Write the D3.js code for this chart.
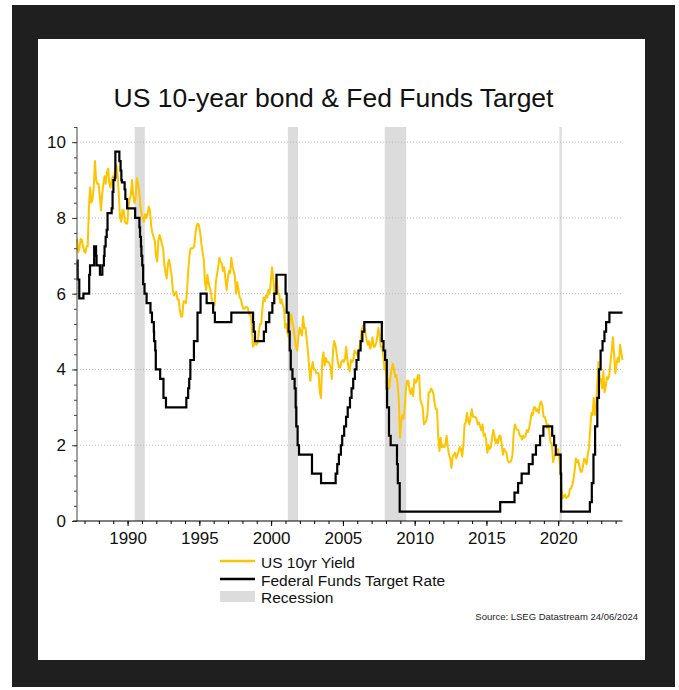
<!DOCTYPE html>
<html>
<head>
<meta charset="utf-8">
<script src="https://cdn.jsdelivr.net/npm/d3@7"></script>
<style>
body { margin: 0; background: #fff; }
text { font-family: "Liberation Sans", Arial, sans-serif; }
</style>
</head>
<body>
<svg id="canvas"></svg>
<script>
// US 10yr yield, monthly readings from Jun 1986 to Jun 2024
let yieldStart = [1986, 5, 24];
let yields = [
  7.45, 7.10, 7.17, 7.45, 7.43, 7.25, 7.11,                               // 1986 (Jun-Dec)
  7.08, 7.25, 7.25, 8.30, 8.80, 8.40, 8.50, 8.80, 9.50, 9.00, 8.90, 8.90, // 1987
  8.60, 8.20, 8.60, 8.90, 9.10, 8.90, 9.20, 9.30, 8.90, 8.80, 9.00, 9.10, // 1988
  9.10, 9.30, 9.40, 9.10, 8.60, 8.00, 7.90, 8.20, 8.20, 7.90, 7.85, 7.85, // 1989
  8.30, 8.50, 8.60, 9.00, 8.60, 8.40, 8.50, 9.05, 8.90, 8.70, 8.30, 8.10, // 1990
  8.00, 7.90, 8.10, 8.00, 8.10, 8.30, 8.20, 7.80, 7.60, 7.50, 7.40, 7.00, // 1991
  6.85, 7.40, 7.55, 7.45, 7.30, 7.20, 6.75, 6.55, 6.40, 6.80, 6.90, 6.70, // 1992
  6.50, 6.10, 5.95, 6.00, 6.05, 5.85, 5.85, 5.55, 5.40, 5.40, 5.80, 5.80, // 1993
  5.75, 6.10, 6.60, 7.00, 7.20, 7.20, 7.20, 7.25, 7.60, 7.80, 7.85, 7.80, // 1994
  7.60, 7.30, 7.10, 6.90, 6.30, 6.10, 6.50, 6.30, 6.15, 6.00, 5.80, 5.70, // 1995
  5.70, 6.30, 6.50, 6.70, 6.95, 6.85, 6.80, 6.60, 6.70, 6.40, 6.10, 6.40, // 1996
  6.60, 6.55, 6.95, 6.70, 6.60, 6.45, 6.00, 6.30, 6.10, 5.90, 5.85, 5.70, // 1997
  5.60, 5.60, 5.65, 5.65, 5.60, 5.45, 5.50, 5.20, 4.60, 4.65, 4.75, 4.65, // 1998
  4.70, 5.00, 5.20, 5.20, 5.60, 5.90, 5.80, 5.95, 5.90, 6.10, 6.00, 6.30, // 1999
  6.70, 6.40, 6.00, 6.20, 6.40, 6.00, 6.00, 5.75, 5.85, 5.70, 5.60, 5.10, // 2000
  5.20, 4.95, 4.85, 5.30, 5.45, 5.25, 5.10, 4.85, 4.60, 4.50, 4.85, 5.10, // 2001
  5.00, 4.90, 5.40, 5.10, 5.10, 4.80, 4.50, 4.10, 3.70, 4.00, 4.20, 4.00, // 2002
  4.00, 3.90, 3.90, 3.90, 3.40, 3.25, 4.20, 4.45, 4.10, 4.30, 4.20, 4.20, // 2003
  4.15, 4.05, 3.75, 4.50, 4.75, 4.65, 4.45, 4.20, 4.05, 4.05, 4.20, 4.25, // 2004
  4.20, 4.30, 4.60, 4.25, 4.05, 3.95, 4.25, 4.20, 4.25, 4.50, 4.45, 4.40, // 2005
  4.35, 4.55, 4.75, 5.05, 5.15, 5.15, 5.00, 4.80, 4.65, 4.75, 4.55, 4.65, // 2006
  4.85, 4.60, 4.60, 4.70, 4.85, 5.10, 4.90, 4.60, 4.60, 4.40, 4.00, 4.15, // 2007
  3.60, 3.75, 3.50, 3.80, 4.00, 4.15, 4.00, 3.80, 3.85, 3.60, 3.20, 2.20, // 2008
  2.65, 2.80, 2.70, 3.00, 3.50, 3.70, 3.70, 3.45, 3.35, 3.50, 3.30, 3.75, // 2009
  3.65, 3.70, 3.85, 3.85, 3.20, 3.10, 3.00, 2.55, 2.60, 2.65, 2.85, 3.40, // 2010
  3.40, 3.50, 3.45, 3.35, 3.10, 2.95, 2.95, 2.20, 1.85, 2.20, 1.95, 2.00, // 2011
  1.95, 2.05, 2.25, 1.95, 1.75, 1.65, 1.40, 1.70, 1.75, 1.80, 1.65, 1.75, // 2012
  1.85, 1.95, 1.90, 1.70, 2.00, 2.55, 2.60, 2.85, 2.65, 2.55, 2.75, 2.95, // 2013
  2.75, 2.75, 2.75, 2.70, 2.55, 2.60, 2.50, 2.40, 2.55, 2.25, 2.30, 2.15, // 2014
  1.80, 2.00, 1.90, 1.95, 2.20, 2.40, 2.25, 2.05, 2.15, 2.05, 2.25, 2.25, // 2015
  2.05, 1.75, 1.90, 1.85, 1.80, 1.60, 1.55, 1.55, 1.60, 1.75, 2.30, 2.55, // 2016
  2.45, 2.40, 2.40, 2.25, 2.25, 2.15, 2.25, 2.20, 2.25, 2.40, 2.35, 2.45, // 2017
  2.65, 2.85, 2.80, 3.00, 3.00, 2.90, 2.95, 2.85, 3.10, 3.15, 3.05, 2.75, // 2018
  2.75, 2.65, 2.45, 2.55, 2.30, 2.05, 2.05, 1.55, 1.70, 1.75, 1.80, 1.90, // 2019
  1.70, 1.40, 0.85, 0.60, 0.65, 0.70, 0.60, 0.65, 0.65, 0.85, 0.85, 0.95, // 2020
  1.10, 1.35, 1.65, 1.55, 1.60, 1.45, 1.30, 1.30, 1.45, 1.65, 1.60, 1.50, // 2021
  1.75, 1.95, 2.40, 2.85, 2.80, 3.25, 2.80, 3.05, 3.70, 4.20, 3.70, 3.75, // 2022
  3.50, 3.95, 3.40, 3.55, 3.80, 3.75, 3.85, 4.20, 4.50, 4.85, 4.40, 3.90, // 2023
  4.15, 4.30, 4.20, 4.65, 4.45, 4.25                                      // 2024 (Jan-Jun)
];

// Federal Funds target rate: dates of change and new rate (upper bound after 2008)
let fedDates = [
  '1986-06-24', '1986-07-11', '1986-08-21', '1986-12-04', '1987-04-30', '1987-05-22',
  '1987-09-04', '1987-10-22', '1987-11-04', '1988-01-28', '1988-03-30', '1988-05-09',
  '1988-05-25', '1988-06-22', '1988-07-19', '1988-08-09', '1988-11-22', '1988-12-15',
  '1989-01-05', '1989-02-09', '1989-02-24', '1989-06-06', '1989-07-07', '1989-07-27',
  '1989-08-10', '1989-10-18', '1989-11-06', '1989-12-20', '1990-07-13', '1990-10-29',
  '1990-11-14', '1990-12-07', '1990-12-19', '1991-01-09', '1991-02-01', '1991-03-08',
  '1991-04-30', '1991-08-06', '1991-09-13', '1991-10-31', '1991-11-06', '1991-12-06',
  '1991-12-20', '1992-04-09', '1992-07-02', '1992-09-04', '1994-02-04', '1994-03-22',
  '1994-04-18', '1994-05-17', '1994-08-16', '1994-11-15', '1995-02-01', '1995-07-06',
  '1995-12-19', '1996-01-31', '1997-03-25', '1998-09-29', '1998-10-15', '1998-11-17',
  '1999-06-30', '1999-08-24', '1999-11-16', '2000-02-02', '2000-03-21', '2000-05-16',
  '2001-01-03', '2001-01-31', '2001-03-20', '2001-04-18', '2001-05-15', '2001-06-27',
  '2001-08-21', '2001-09-17', '2001-10-02', '2001-11-06', '2001-12-11', '2002-11-06',
  '2003-06-25', '2004-06-30', '2004-08-10', '2004-09-21', '2004-11-10', '2004-12-14',
  '2005-02-02', '2005-03-22', '2005-05-03', '2005-06-30', '2005-08-09', '2005-09-20',
  '2005-11-01', '2005-12-13', '2006-01-31', '2006-03-28', '2006-05-10', '2006-06-29',
  '2007-09-18', '2007-10-31', '2007-12-11', '2008-01-22', '2008-01-30', '2008-03-18',
  '2008-04-30', '2008-10-08', '2008-10-29', '2008-12-16', '2015-12-17', '2016-12-15',
  '2017-03-16', '2017-06-15', '2017-12-14', '2018-03-22', '2018-06-14', '2018-09-27',
  '2018-12-20', '2019-08-01', '2019-09-19', '2019-10-31', '2020-03-04', '2020-03-16',
  '2022-03-17', '2022-05-05', '2022-06-16', '2022-07-28', '2022-09-22', '2022-11-03',
  '2022-12-15', '2023-02-02', '2023-03-23', '2023-05-04', '2023-07-27', '2024-06-24'
];
let fedRates = [
  6.875, 6.375, 5.875, 6.0, 6.5, 6.75,
  7.25, 7.0, 6.75, 6.5, 6.75, 7.0,
  7.25, 7.5, 7.6875, 8.125, 8.25, 8.6875,
  9.0, 9.0625, 9.75, 9.5, 9.25, 9.0,
  8.9375, 8.75, 8.5, 8.25, 8.0, 7.75,
  7.5, 7.25, 7.0, 6.75, 6.25, 6.0,
  5.75, 5.5, 5.25, 5.0, 4.75, 4.5,
  4.0, 3.75, 3.25, 3.0, 3.25, 3.5,
  3.75, 4.25, 4.75, 5.5, 6.0, 5.75,
  5.5, 5.25, 5.5, 5.25, 5.0, 4.75,
  5.0, 5.25, 5.5, 5.75, 6.0, 6.5,
  6.0, 5.5, 5.0, 4.5, 4.0, 3.75,
  3.5, 3.0, 2.5, 2.0, 1.75, 1.25,
  1.0, 1.25, 1.5, 1.75, 2.0, 2.25,
  2.5, 2.75, 3.0, 3.25, 3.5, 3.75,
  4.0, 4.25, 4.5, 4.75, 5.0, 5.25,
  4.75, 4.5, 4.25, 3.5, 3.0, 2.25,
  2.0, 1.5, 1.0, 0.25, 0.5, 0.75,
  1.0, 1.25, 1.5, 1.75, 2.0, 2.25,
  2.5, 2.25, 2.0, 1.75, 1.25, 0.25,
  0.5, 1.0, 1.75, 2.5, 3.25, 4.0,
  4.5, 4.75, 5.0, 5.25, 5.5, 5.5
];

let recessionStarts = ['1990-07-01', '2001-03-01', '2007-12-01', '2020-02-01'];
let recessionEnds = ['1991-03-15', '2001-11-15', '2009-06-01', '2020-04-01'];

let yTicks = [0, 2, 4, 6, 8, 10];
let xTickYears = [1990, 1995, 2000, 2005, 2010, 2015, 2020];

let legendLabels = ['US 10yr Yield', 'Federal Funds Target Rate', 'Recession'];
let titleText = 'US 10-year bond & Fed Funds Target';
let sourceText = 'Source: LSEG Datastream 24/06/2024';

let width = 679;
let height = 690;
let plotLeft = 77;
let plotRight = 622.5;
let plotTop = 127;
let plotBottom = 521;

let yellow = '#FFC400';
let black = '#000000';
let grey = '#dcdcdc';

let parse = d3.timeParse('%Y-%m-%d');

let canvas = d3.select('#canvas').
attr('width', width).
attr('height', height);

// frame
canvas.append('rect').
attr('x', 12).attr('y', 5).
attr('width', 663).attr('height', 682).
attr('fill', '#1f1f1f');
canvas.append('rect').
attr('x', 38).attr('y', 39).
attr('width', 607).attr('height', 621).
attr('fill', '#ffffff');

let yieldData = yields.map((v, i) => ({
  date: new Date(yieldStart[0], yieldStart[1] + i, yieldStart[2]),
  value: v
}));
let fedData = fedDates.map((d, i) => ({ date: parse(d), value: fedRates[i] }));

let xScale = d3.scaleTime().
domain([yieldData[0].date, yieldData[yieldData.length - 1].date]).
range([plotLeft, plotRight]);

let yScale = d3.scaleLinear().
domain([0, 10.4]).
range([plotBottom, plotTop]);

// recession bands
canvas.append('g').
selectAll('rect').
data(recessionStarts).
enter().
append('rect').
attr('x', d => xScale(parse(d))).
attr('y', plotTop).
attr('width', (d, i) => xScale(parse(recessionEnds[i])) - xScale(parse(d))).
attr('height', plotBottom - plotTop).
attr('fill', grey);

// gridlines
canvas.append('g').
selectAll('line').
data(yTicks.filter(t => t > 0)).
enter().
append('line').
attr('x1', plotLeft).
attr('x2', plotRight).
attr('y1', d => yScale(d)).
attr('y2', d => yScale(d)).
attr('stroke', '#b8b8b8').
attr('stroke-width', 1).
attr('stroke-dasharray', '1,2');

// lines
let line = d3.line().
x(d => xScale(d.date)).
y(d => yScale(d.value));

canvas.append('path').
datum(yieldData).
attr('d', line).
attr('fill', 'none').
attr('stroke', yellow).
attr('stroke-width', 2).
attr('stroke-linejoin', 'round');

canvas.append('path').
datum(fedData).
attr('d', line.curve(d3.curveStepAfter)).
attr('fill', 'none').
attr('stroke', black).
attr('stroke-width', 2.2);

// axes
let yMinor = d3.axisLeft(yScale).
tickValues(d3.range(0, 10.41, 0.4)).
tickSize(3).
tickFormat('');
canvas.append('g').
attr('transform', 'translate(' + plotLeft + ',0)').
call(yMinor).
call(g => g.select('.domain').remove()).
selectAll('line').attr('stroke', '#444');

let yAxis = d3.axisLeft(yScale).
tickValues(yTicks).
tickSize(5).
tickPadding(6).
tickFormat(d3.format('d'));
let yG = canvas.append('g').
attr('id', 'y-axis').
attr('transform', 'translate(' + plotLeft + ',0)').
call(yAxis);
yG.select('.domain').attr('stroke', '#444').attr('d', 'M0,' + plotTop + 'V' + plotBottom);
yG.selectAll('line').attr('stroke', '#444');
yG.selectAll('text').
attr('font-size', 17).
attr('font-family', '"Liberation Sans", Arial, sans-serif').
attr('fill', '#111');

let xMinor = d3.axisBottom(xScale).
ticks(d3.timeYear.every(1)).
tickSize(3).
tickFormat('');
canvas.append('g').
attr('transform', 'translate(0,' + plotBottom + ')').
call(xMinor).
call(g => g.select('.domain').remove()).
selectAll('line').attr('stroke', '#000');

let xAxis = d3.axisBottom(xScale).
tickValues(xTickYears.map(y => new Date(y, 0, 1))).
tickSize(5).
tickPadding(6).
tickFormat(d3.timeFormat('%Y'));
let xG = canvas.append('g').
attr('id', 'x-axis').
attr('transform', 'translate(0,' + plotBottom + ')').
call(xAxis);
xG.select('.domain').attr('stroke', '#000').attr('d', 'M' + (plotLeft - 4) + ',0H' + plotRight);
xG.selectAll('text').
attr('font-size', 17).
attr('font-family', '"Liberation Sans", Arial, sans-serif').
attr('fill', '#111');

// title
canvas.append('text').
attr('x', 333.5).
attr('y', 107).
attr('text-anchor', 'middle').
attr('font-size', 26.5).
attr('fill', '#111').
text(titleText);

// legend
let legend = canvas.append('g');
let legendY = [561, 579, 596.5];
legendLabels.forEach((label, i) => {
  if (i < 2) {
    legend.append('line').
    attr('x1', 220).attr('x2', 255).
    attr('y1', legendY[i]).attr('y2', legendY[i]).
    attr('stroke', i === 0 ? yellow : black).
    attr('stroke-width', 2.5);
  } else {
    legend.append('rect').
    attr('x', 220).attr('y', legendY[i] - 5.5).
    attr('width', 35).attr('height', 11).
    attr('fill', grey);
  }
  legend.append('text').
  attr('x', 261).
  attr('y', legendY[i] + 6.5).
  attr('font-size', 15.5).
  attr('fill', '#111').
  text(label);
});

canvas.append('text').
attr('x', 638).
attr('y', 620).
attr('text-anchor', 'end').
attr('font-size', 9.5).
attr('fill', '#222').
text(sourceText);
</script>
</body>
</html>
